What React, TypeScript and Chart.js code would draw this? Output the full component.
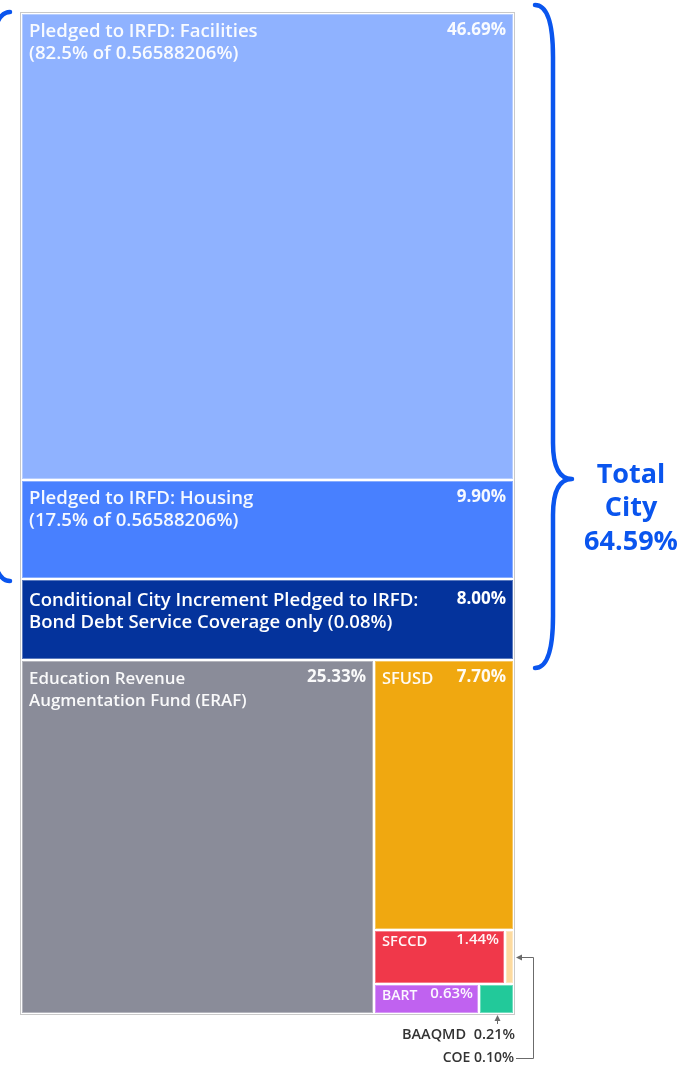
import React, { useEffect, useRef } from "react";
import { Chart, registerables } from "chart.js";

Chart.register(...registerables);

// ---------- data ----------
const categories = [
  "Facilities",
  "Housing",
  "Conditional",
  "ERAF",
  "SFUSD",
  "SFCCD",
  "COE",
  "BART",
  "BAAQMD",
];
const cellLabels: string[][] = [
  ["Pledged to IRFD: Facilities", "(82.5% of 0.56588206%)"],
  ["Pledged to IRFD: Housing", "(17.5% of 0.56588206%)"],
  ["Conditional City Increment Pledged to IRFD:", "Bond Debt Service Coverage only (0.08%)"],
  ["Education Revenue", "Augmentation Fund (ERAF)"],
  ["SFUSD"],
  ["SFCCD"],
  [],
  ["BART"],
  [],
];
const shares = [46.69, 9.9, 8.0, 25.33, 7.7, 1.44, 0.1, 0.63, 0.21];
const shareLabels = ["46.69%", "9.90%", "8.00%", "25.33%", "7.70%", "1.44%", "0.10%", "0.63%", "0.21%"];
const cellColors = [
  "#8fb2ff",
  "#4880ff",
  "#04339c",
  "#8a8c99",
  "#f0a810",
  "#f0384a",
  "#fddba0",
  "#c062f0",
  "#22c99a",
];
// cells labelled outside the map with a call-out
const calloutCells = [8, 6];
const calloutTexts = ["BAAQMD  0.21%", "COE 0.10%"];
// group bracket
const cityCells = [0, 1, 2];
const cityLabelLines = ["Total", "City", "64.59%"];
const leftBracketCells = [0, 1];

// nesting of the slice-and-dice layout (indexes into the arrays above)
type Node = number | { dir: "h" | "v"; children: Node[] };
const layoutTree: Node = {
  dir: "v",
  children: [
    0,
    1,
    2,
    {
      dir: "h",
      children: [
        3,
        {
          dir: "v",
          children: [4, { dir: "h", children: [5, 6] }, { dir: "h", children: [7, 8] }],
        },
      ],
    },
  ],
};

// ---------- style ----------
const FONT = '"Segoe UI", "Open Sans", sans-serif';
const BLUE = "#0a55ee";
const LABEL_PX = [18.6, 18.6, 18.5, 16.9, 16.5, 14.7, 14, 14, 14];

type R = { x0: number; y0: number; x1: number; y1: number };

function nodeSum(n: Node): number {
  return typeof n === "number" ? shares[n] : n.children.reduce((s, c) => s + nodeSum(c), 0);
}

function layout(n: Node, r: R, out: R[]) {
  if (typeof n === "number") {
    out[n] = r;
    return;
  }
  const tot = nodeSum(n);
  let cur = n.dir === "v" ? r.y0 : r.x0;
  for (const c of n.children) {
    const f = nodeSum(c) / tot;
    if (n.dir === "v") {
      const ny = cur + f * (r.y1 - r.y0);
      layout(c, { x0: r.x0, y0: cur, x1: r.x1, y1: ny }, out);
      cur = ny;
    } else {
      const nx = cur + f * (r.x1 - r.x0);
      layout(c, { x0: cur, y0: r.y0, x1: nx, y1: r.y1 }, out);
      cur = nx;
    }
  }
}

function drawBrace(
  ctx: CanvasRenderingContext2D,
  endX: number,
  top: number,
  bottom: number,
  tipY: number,
  s: number
) {
  const stemX = endX + s * 18;
  const tipX = stemX + s * 19;
  const r1 = 52;
  const r2 = 36;
  ctx.beginPath();
  ctx.moveTo(endX, top);
  ctx.quadraticCurveTo(stemX, top, stemX, top + r1);
  ctx.lineTo(stemX, tipY - r2);
  ctx.quadraticCurveTo(stemX, tipY, tipX, tipY);
  ctx.quadraticCurveTo(stemX, tipY, stemX, tipY + r2);
  ctx.lineTo(stemX, bottom - r1);
  ctx.quadraticCurveTo(stemX, bottom, endX, bottom);
  ctx.stroke();
  return { stemX, tipX };
}

function arrowHead(ctx: CanvasRenderingContext2D, x: number, y: number, dx: number, dy: number) {
  const L = 6;
  const W = 3;
  ctx.beginPath();
  ctx.moveTo(x, y);
  ctx.lineTo(x - dx * L - dy * W, y - dy * L + dx * W);
  ctx.lineTo(x - dx * L + dy * W, y - dy * L - dx * W);
  ctx.closePath();
  ctx.fill();
}

const treemapPlugin = {
  id: "treemapCells",
  afterDraw(chart: any) {
    const ctx: CanvasRenderingContext2D = chart.ctx;
    const xs = chart.scales.x;
    const ys = chart.scales.y;
    const rects: R[] = [];
    layout(layoutTree, { x0: 0, y0: 0, x1: 1, y1: 1 }, rects);
    const px = rects.map((r) => ({
      x0: Math.round(xs.getPixelForValue(r.x0)),
      x1: Math.round(xs.getPixelForValue(r.x1)),
      y0: Math.round(ys.getPixelForValue(r.y0)),
      y1: Math.round(ys.getPixelForValue(r.y1)),
    }));
    const ca = chart.chartArea;
    ctx.save();

    // outer frame
    ctx.strokeStyle = "#c9c9c9";
    ctx.lineWidth = 1;
    ctx.strokeRect(Math.round(ca.left) - 0.5, Math.round(ca.top) - 0.5, Math.round(ca.right - ca.left) + 1, Math.round(ca.bottom - ca.top) + 1);

    // cells
    px.forEach((r, i) => {
      ctx.fillStyle = cellColors[i];
      ctx.fillRect(r.x0 + 1, r.y0 + 1, r.x1 - r.x0 - 2, r.y1 - r.y0 - 2);
      ctx.strokeStyle = "rgba(255,255,255,0.35)";
      ctx.lineWidth = 1;
      ctx.strokeRect(r.x0 + 1.5, r.y0 + 1.5, r.x1 - r.x0 - 3, r.y1 - r.y0 - 3);
    });

    // labels
    ctx.textBaseline = "middle";
    px.forEach((r, i) => {
      if (calloutCells.includes(i)) return;
      const small = shares[i] < 2;
      const isDark = i === 2;
      const labSize = LABEL_PX[i];
      const pctSize = small ? 15 : 17;
      const off = small ? 12 : isDark ? 22 : 19;
      const lineH = 22;
      ctx.fillStyle = isDark ? "#ffffff" : "rgba(255,255,255,0.95)";
      ctx.textAlign = "left";
      ctx.font = `600 ${labSize}px ${FONT}`;
      cellLabels[i].forEach((t, k) => {
        ctx.fillText(t, r.x0 + 8, r.y0 + off + k * lineH);
      });
      ctx.textAlign = "right";
      ctx.font = `${small ? 600 : 700} ${pctSize}px ${FONT}`;
      ctx.fillText(shareLabels[i], r.x1 - (small ? 6 : 8), r.y0 + off - 2);
    });

    // right bracket: Total City
    const cTop = Math.min(...cityCells.map((i) => px[i].y0));
    const cBot = Math.max(...cityCells.map((i) => px[i].y1));
    const right = Math.round(ca.right);
    ctx.strokeStyle = BLUE;
    ctx.fillStyle = BLUE;
    ctx.lineWidth = 4.5;
    ctx.lineCap = "round";
    ctx.lineJoin = "round";
    const topEnd = cTop - 8;
    const botEnd = cBot + 8;
    const tipY = topEnd + 0.715 * (botEnd - topEnd);
    const { tipX } = drawBrace(ctx, right + 21, topEnd, botEnd, tipY, 1);
    ctx.textAlign = "center";
    ctx.font = `700 27px ${FONT}`;
    cityLabelLines.forEach((t, k) => {
      ctx.fillText(t, tipX + 59, tipY - 4 + k * 33.5);
    });

    // left bracket (mostly off canvas)
    const lTop = Math.min(...leftBracketCells.map((i) => px[i].y0));
    const lBot = Math.max(...leftBracketCells.map((i) => px[i].y1));
    const left = Math.round(ca.left);
    drawBrace(ctx, left - 11, lTop - 1, lBot + 2, (lTop + lBot) / 2, -1);

    // call-outs
    ctx.lineCap = "butt";
    ctx.strokeStyle = "#6b6b6b";
    ctx.fillStyle = "#6b6b6b";
    ctx.lineWidth = 1;
    const bottom = Math.round(ca.bottom);
    // BAAQMD
    const b = px[calloutCells[0]];
    const bx = Math.round((b.x0 + b.x1) / 2) + 0.5;
    ctx.beginPath();
    ctx.moveTo(bx, bottom + 10);
    ctx.lineTo(bx, bottom + 4);
    ctx.stroke();
    arrowHead(ctx, bx, bottom + 1, 0, -1);
    // COE
    const c = px[calloutCells[1]];
    const cy = Math.round((c.y0 + c.y1) / 2) + 0.5;
    const vx = right + 19.5;
    const ty = bottom + 44;
    ctx.beginPath();
    ctx.moveTo(c.x1 + 7, cy);
    ctx.lineTo(vx, cy);
    ctx.lineTo(vx, ty + 0.5);
    ctx.lineTo(right + 2, ty + 0.5);
    ctx.stroke();
    arrowHead(ctx, c.x1 + 2, cy, -1, 0);

    ctx.fillStyle = "#333333";
    ctx.textAlign = "right";
    ctx.font = `600 14.5px ${FONT}`;
    ctx.fillText(calloutTexts[0], right + 1, bottom + 21);
    ctx.font = `600 14px ${FONT}`;
    ctx.fillText(calloutTexts[1], right, ty);

    ctx.restore();
  },
};

export default function App() {
  const ref = useRef<HTMLCanvasElement | null>(null);
  useEffect(() => {
    if (!ref.current) return;
    const chart = new Chart(ref.current, {
      type: "scatter",
      data: {
        labels: categories,
        datasets: [
          {
            label: "share",
            data: [],
            pointRadius: 0,
          },
        ],
      },
      options: {
        animation: false,
        responsive: false,
        maintainAspectRatio: false,
        devicePixelRatio: 1,
        layout: { padding: { left: 21, right: 180, top: 13, bottom: 51 } },
        scales: {
          x: { type: "linear", min: 0, max: 1, display: false },
          y: { type: "linear", min: 0, max: 1, reverse: true, display: false },
        },
        plugins: {
          legend: { display: false },
          tooltip: { enabled: false },
          title: { display: false },
        },
      },
      plugins: [treemapPlugin],
    });
    return () => chart.destroy();
  }, []);
  return (
    <div style={{ position: "absolute", left: 0, top: 0, width: 694, height: 1065, background: "#fff" }}>
      <canvas ref={ref} width={694} height={1065} style={{ display: "block", width: 694, height: 1065 }} />
    </div>
  );
}
